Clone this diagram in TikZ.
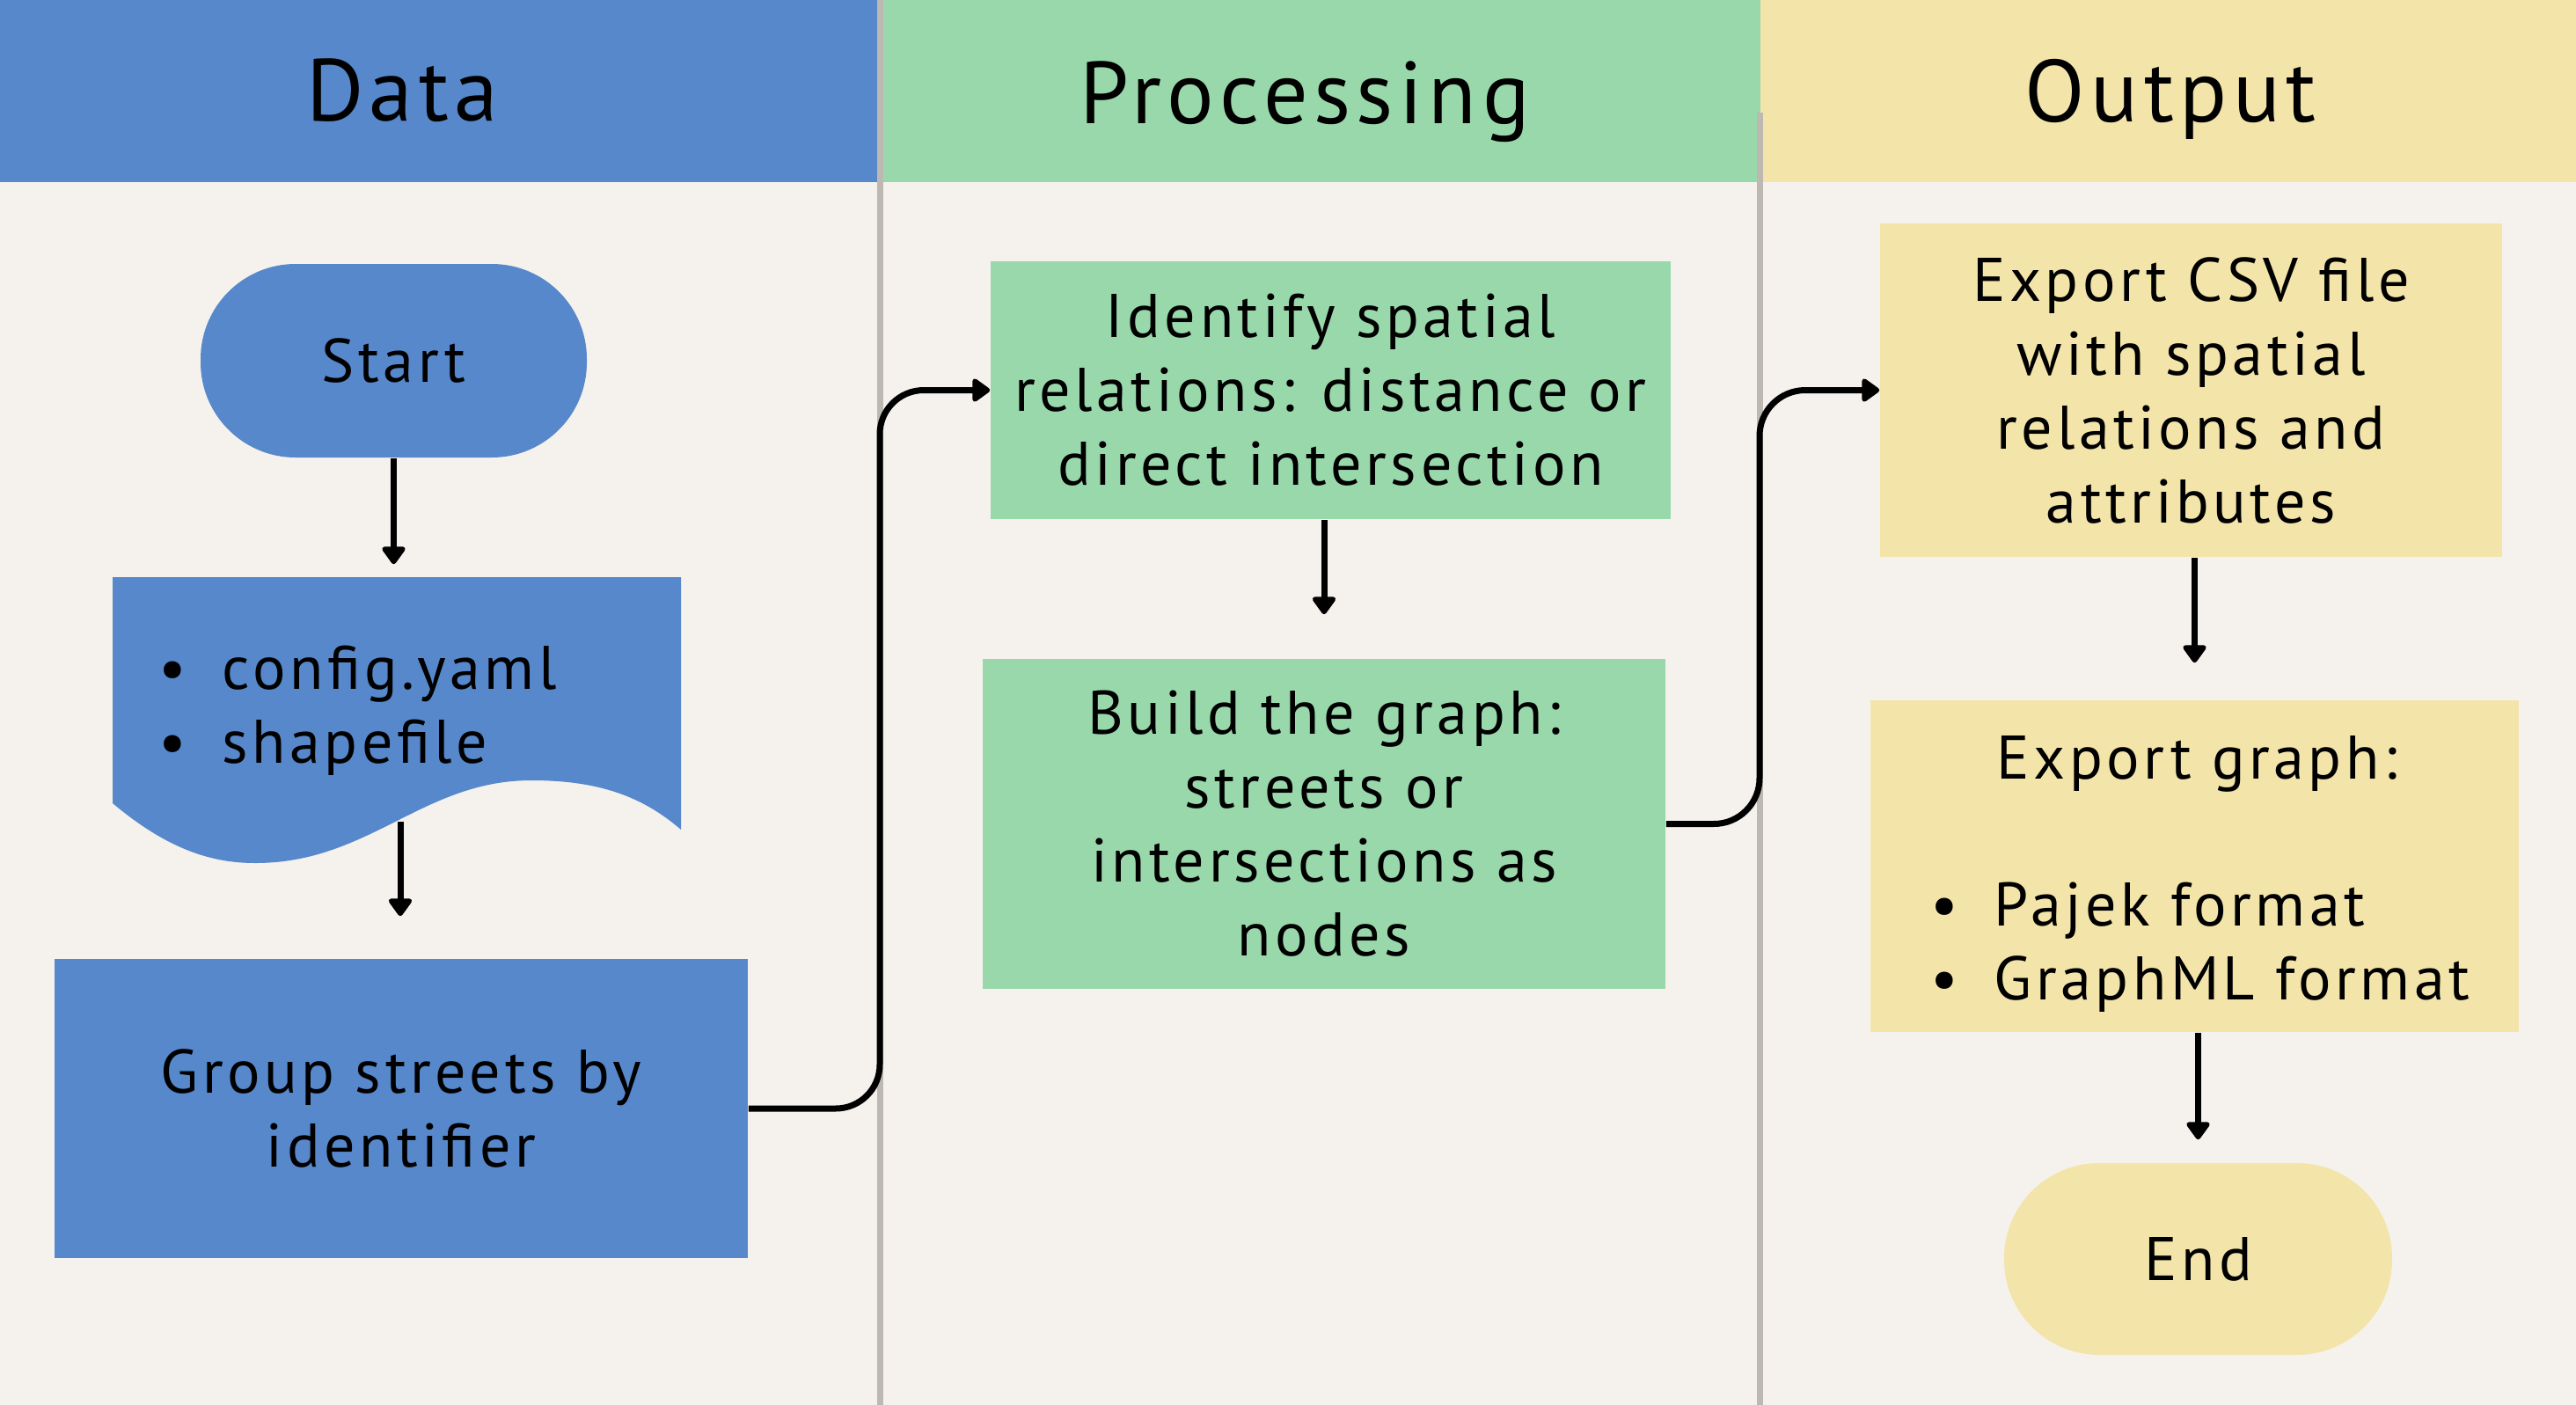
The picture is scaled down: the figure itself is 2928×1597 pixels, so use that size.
\documentclass[tikz,border=0pt]{standalone}
\usepackage{fontspec}
\setmainfont{PT Sans}[LetterSpace=6.5]
\usetikzlibrary{arrows.meta}
\definecolor{bgc}{HTML}{F5F2ED}
\definecolor{bluec}{HTML}{5688CB}
\definecolor{greenc}{HTML}{99D8AB}
\definecolor{yellowc}{HTML}{F3E4AA}
\definecolor{divc}{HTML}{BDB9B2}
\begin{document}
\begin{tikzpicture}[x=0.25pt,y=-0.25pt,
  body/.style={font=\fontsize{17.5pt}{21pt}\selectfont, text=black},
  head/.style={font=\fontsize{25pt}{30pt}\selectfont, text=black, anchor=base},
  boxn/.style={rectangle, inner sep=0pt, align=center, body},
  stadium/.style={boxn, rounded corners=27pt},
  bul/.style={body, anchor=base west, inner sep=0pt},
  arr/.style={line width=1.75pt, -{Triangle[length=5.5pt,width=7.5pt,round]}},
  divider/.style={line width=1.75pt, draw=divc}]
\useasboundingbox (0,0) rectangle (2928,1597);
\fill[bgc] (0,0) rectangle (2928,1597);
% headers
\fill[bluec] (0,0) rectangle (997,207);
\fill[greenc] (1003,0) rectangle (2001,207);
\fill[yellowc] (2001,0) rectangle (2928,207);
\draw[divider] (1000,0) -- (1000,1597);
\draw[divider] (2000,128) -- (2000,1597);
\node[head] (hdata) at (457,137) {Data};
\node[head] (hproc) at (1483,140) {Processing};
\node[head] (hout) at (2467,138) {Output};
\coordinate (d1) at (1000,0);
\coordinate (d2) at (2000,0);
% Data column
\node[stadium, fill=bluec, minimum width=109.75pt, minimum height=55pt] (start) at (447.5,410) {Start};
\node[rectangle, inner sep=0pt, minimum width=161.75pt, minimum height=81.25pt] (doc) at (451,818.5) {};
\fill[bluec] (128,656) -- (774,656) -- (774,943)
  .. controls (730,905) and (680,887) .. (604,887)
  .. controls (480,887) and (420,981) .. (290,981)
  .. controls (240,981) and (190,965) .. (128,913) -- cycle;
\node[bul] (doc1) at (180,783) {\makebox[18pt][l]{\textbullet}config.yaml};
\node[bul] (doc2) at (180,867) {\makebox[18pt][l]{\textbullet}shapefile};
\coordinate (docbot) at (455,934);
\node[boxn, fill=bluec, minimum width=197pt, minimum height=85pt] (group) at (456,1260) {Group streets by\\identifier};
% Processing column
\node[boxn, fill=greenc, minimum width=193.25pt, minimum height=73.25pt] (ident) at (1512.5,443.5) {Identify spatial\\relations: distance or\\direct intersection};
\node[boxn, fill=greenc, minimum width=194pt, minimum height=93.75pt] (build) at (1505,936.5) {Build the graph:\\streets or\\intersections as\\nodes};
% Output column
\node[boxn, fill=yellowc, minimum width=176.75pt, minimum height=94.75pt] (csv) at (2490.5,443.5) {Export CSV file\\with spatial\\relations and\\attributes};
\node[boxn, fill=yellowc, minimum width=184.25pt, minimum height=94.25pt] (eg) at (2494.5,984.5) {};
\node[body, anchor=base, inner sep=0pt] (egt) at (2497,885) {Export graph:};
\node[bul] (eg1) at (2194,1052) {\makebox[18pt][l]{\textbullet}Pajek format};
\node[bul] (eg2) at (2194,1136) {\makebox[18pt][l]{\textbullet}GraphML format};
\node[stadium, fill=yellowc, minimum width=110.25pt, minimum height=54.5pt] (end) at (2498.5,1431) {End};
% connectors
\draw[arr, shorten >=3.5pt] (start.south) -- (start.south |- doc.north);
\draw[arr, shorten >=12pt] (docbot) -- (docbot |- group.north);
\draw[arr, rounded corners=12.5pt] (group.east) -- (group.east -| d1) -- (ident.west -| d1) -- (ident.west);
\draw[arr, shorten >=12.5pt] (ident.south -| build.north) -- (build.north);
\draw[arr, rounded corners=13pt] (build.east) -- (build.east -| d2) -- (csv.west -| d2) -- (csv.west);
\draw[arr, shorten >=10.5pt] (csv.south -| eg.north) -- (eg.north);
\draw[arr, shorten >=6.5pt] (eg.south -| end.north) -- (end.north);
\end{tikzpicture}
\end{document}
